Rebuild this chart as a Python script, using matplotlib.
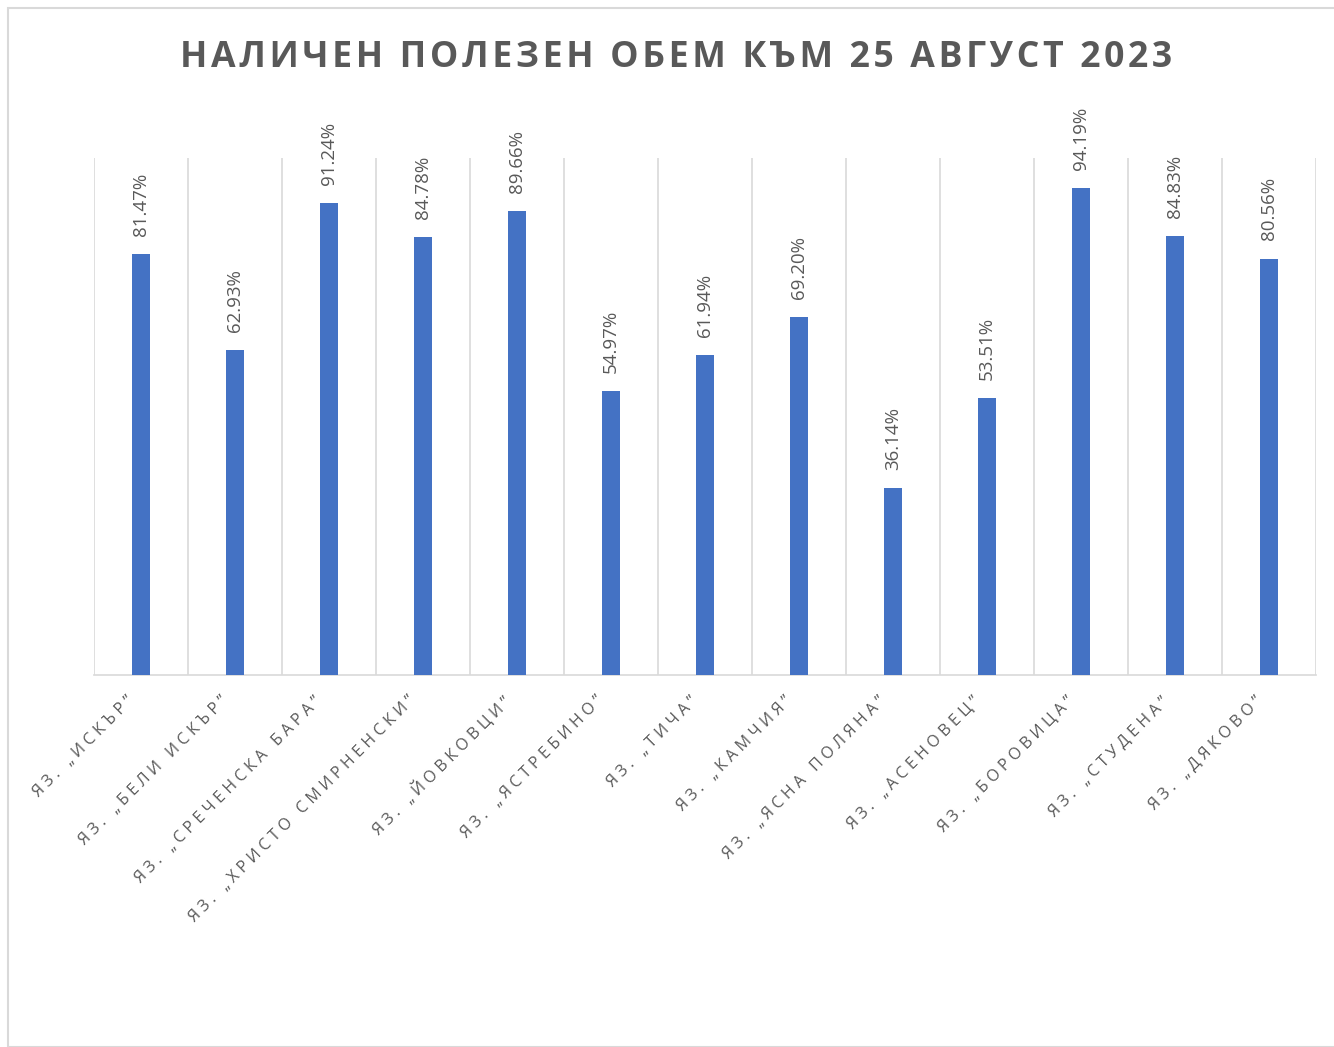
import matplotlib
matplotlib.use("Agg")
import matplotlib.pyplot as plt
from matplotlib.patches import Rectangle
from matplotlib.transforms import ScaledTranslation
import numpy as np

categories = ["ЯЗ. „ИСКЪР”", "ЯЗ. „БЕЛИ ИСКЪР”", "ЯЗ. „СРЕЧЕНСКА БАРА”", "ЯЗ. „ХРИСТО СМИРНЕНСКИ”",
              "ЯЗ. „ЙОВКОВЦИ”", "ЯЗ. „ЯСТРЕБИНО”", "ЯЗ. „ТИЧА”", "ЯЗ. „КАМЧИЯ”", "ЯЗ. „ЯСНА ПОЛЯНА”",
              "ЯЗ. „АСЕНОВЕЦ”", "ЯЗ. „БОРОВИЦА”", "ЯЗ. „СТУДЕНА”", "ЯЗ. „ДЯКОВО”"]
values = [81.47, 62.93, 91.24, 84.78, 89.66, 54.97, 61.94, 69.20, 36.14, 53.51, 94.19, 84.83, 80.56]
title = "НАЛИЧЕН ПОЛЕЗЕН ОБЕМ КЪМ 25 АВГУСТ 2023"


def spaced(s, sep):
    return sep.join(s)


FAM = ["Open Sans", "DejaVu Sans"]
W, H = 1334, 1047
fig = plt.figure(figsize=(W/100, H/100), dpi=100)
fig.patch.set_facecolor("white")
fig.add_artist(Rectangle((8/W, 0), 1.2, 1 - 8/H, transform=fig.transFigure,
                         fill=False, edgecolor="#d9d9d9", linewidth=1.5))

ax = fig.add_axes([94/W, 1 - 675/H, (1316-94)/W, (675-158)/H])
x = np.arange(len(categories))
ax.bar(x, [v/100 for v in values], width=0.19, color="#4472c4", zorder=3)
ax.set_xlim(-0.5, len(categories) - 0.5)
ax.set_ylim(0, 1)
for s in ["top", "right", "left"]:
    ax.spines[s].set_visible(False)
ax.spines["bottom"].set_color("#d9d9d9")
ax.spines["bottom"].set_linewidth(1.2)
ax.set_yticks([])
ax.set_xticks(np.arange(-0.5, len(categories), 1), minor=True)
ax.grid(True, which="minor", axis="x", color="#d9d9d9", linewidth=1.2, zorder=0)
ax.tick_params(which="both", length=0)
ax.set_xticks(x)
ax.set_xticklabels([spaced(c, "\u2009\u200a") for c in categories], rotation=45, ha="right",
                   rotation_mode="anchor", fontsize=11.6, color="#595959", family=FAM)
ax.tick_params(axis="x", pad=13)
shift = ScaledTranslation(-0.15, 0.0, fig.dpi_scale_trans)
for lab in ax.get_xticklabels():
    lab.set_transform(lab.get_transform() + shift)
for xi, v in zip(x, values):
    ax.annotate(f"{v:.2f}%", (xi, v/100), xytext=(0, 13), textcoords="offset points",
                rotation=90, ha="center", va="bottom", fontsize=13.5, color="#595959",
                family=FAM)

fig.text(676/W, 1 - 58/H, spaced(title, "\u200a"), ha="center", va="center", fontsize=25.7,
         fontweight="bold", color="#595959", family=FAM)

fig.savefig("out.png", dpi=100, facecolor="white")
